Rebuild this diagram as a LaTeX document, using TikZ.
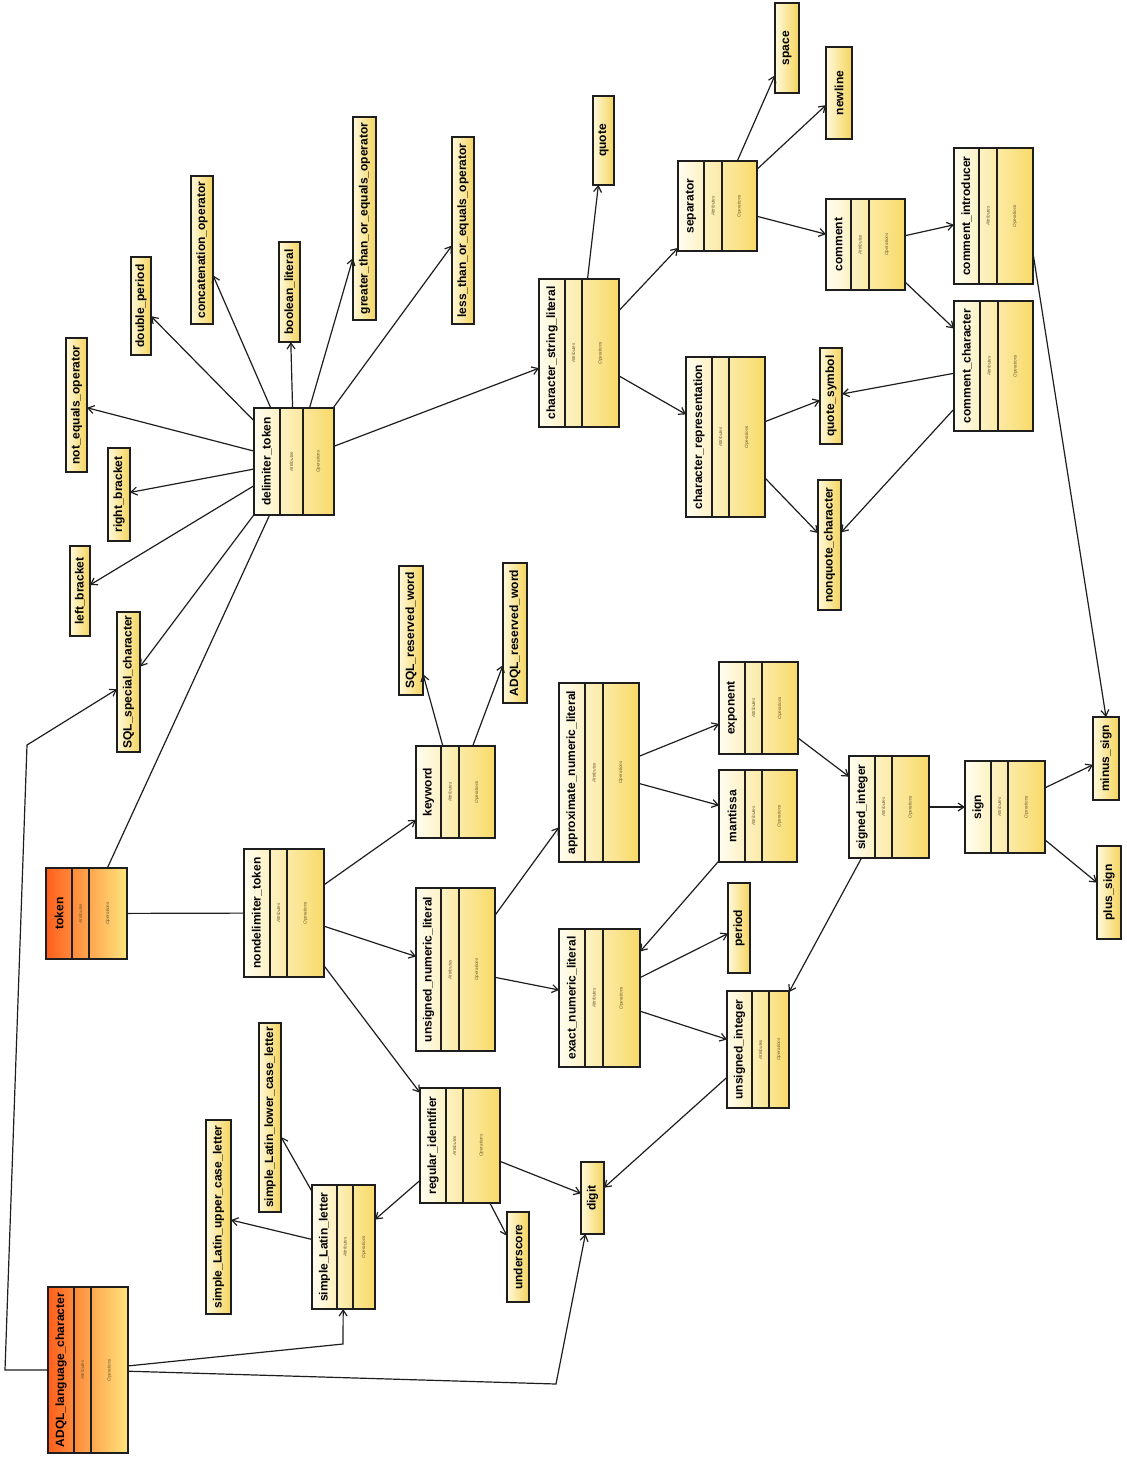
\documentclass[tikz,border=0pt]{standalone}
\usepackage{fontspec}
\setmainfont{Liberation Sans}
\usetikzlibrary{calc,arrows.meta}

\definecolor{clsL}{HTML}{FFFDF0}
\definecolor{clsR}{HTML}{F8DA68}
\definecolor{orgL}{HTML}{FF5F1C}
\definecolor{orgR}{HTML}{FFE47C}
\definecolor{litL}{HTML}{FFF9DC}
\definecolor{litR}{HTML}{F4D45C}
\definecolor{inkline}{HTML}{1E1E1E}
\definecolor{compText}{HTML}{6A5A2E}

\tikzset{
  classbox/.style={draw=inkline, line width=1.1pt, left color=clsL, right color=clsR, inner sep=0pt, outer sep=0pt},
  rootbox/.style={classbox, left color=orgL, right color=orgR},
  literal/.style={classbox, left color=litL, right color=litR},
  divider/.style={draw=inkline, line width=1.1pt},
  namelbl/.style={rotate=90, font=\bfseries\fontsize{12}{12}\selectfont, inner sep=0pt, text=black},
  complbl/.style={rotate=90, font=\itshape\fontsize{4.6}{4.6}\selectfont, inner sep=0pt, text=compText},
  conn/.style={draw=inkline, line width=1.2pt},
  assoc/.style={conn, -{Straight Barb[length=6pt,width=8pt]}},
}

% UML class with name, attribute and operation compartments (laid out sideways)
% #1 node name, #2 left, #3 top, #4 width, #5 height, #6/#7 divider offsets, #8 style, #9 title
\newcommand{\umlclass}[9]{%
  \node[#8, anchor=north west, minimum width=#4pt, minimum height=#5pt] (#1) at (#2,#3) {};
  \draw[divider] ([xshift=#6pt]#1.north west) -- ([xshift=#6pt]#1.south west);
  \draw[divider] ([xshift=#7pt]#1.north west) -- ([xshift=#7pt]#1.south west);
  \node[namelbl] at ([xshift=#6pt/2]#1.west) {#9};
  \node[complbl] at ([xshift=(#6pt+#7pt)/2]#1.west) {Attributes};
  \node[complbl] at ([xshift=(#7pt+#4pt)/2]#1.west) {Operations};
}

% single-compartment literal box
% #1 node name, #2 left, #3 top, #4 width, #5 height, #6 title
\newcommand{\literalbox}[6]{%
  \node[literal, anchor=north west, minimum width=#4pt, minimum height=#5pt] (#1) at (#2,#3) {};
  \node[namelbl] at (#1.center) {#6};
}

\begin{document}
\begin{tikzpicture}[x=1pt, y=-1pt]
\fill[white] (0,0) rectangle (1127,1468);
\useasboundingbox (0,0) rectangle (1127,1468);

% ---- classes ----
\umlclass{delim}{254}{408}{80}{107}{26}{49}{classbox}{delimiter\_token}
\umlclass{token}{46}{868}{81}{91}{26}{43}{rootbox}{token}
\umlclass{adqlchar}{48}{1287}{80}{166}{26}{43}{rootbox}{ADQL\_language\_character}
\umlclass{csl}{539}{279}{80}{148}{26}{43}{classbox}{character\_string\_literal}
\umlclass{separator}{678}{161}{79}{90}{26}{44}{classbox}{separator}
\umlclass{comment}{826}{199}{79}{91}{25}{43}{classbox}{comment}
\umlclass{cintro}{954}{148}{79}{136}{25}{43}{classbox}{comment\_introducer}
\umlclass{cchar}{954}{301}{79}{130}{26}{44}{classbox}{comment\_character}
\umlclass{crep}{686}{357}{79}{160}{26}{43}{classbox}{character\_representation}
\umlclass{nondelim}{244}{849}{80}{128}{26}{43}{classbox}{nondelimiter\_token}
\umlclass{keyword}{416}{746}{79}{92}{25}{43}{classbox}{keyword}
\umlclass{unl}{416}{888}{79}{163}{25}{43}{classbox}{unsigned\_numeric\_literal}
\umlclass{anl}{559}{683}{80}{179}{26}{44}{classbox}{approximate\_numeric\_literal}
\umlclass{exponent}{719}{662}{79}{92}{26}{43}{classbox}{exponent}
\umlclass{mantissa}{719}{770}{78}{92}{26}{43}{classbox}{mantissa}
\umlclass{enl}{559}{929}{81}{138}{26}{44}{classbox}{exact\_numeric\_literal}
\umlclass{sint}{849}{756}{80}{102}{26}{43}{classbox}{signed\_integer}
\umlclass{sign}{965}{761}{80}{92}{26}{43}{classbox}{sign}
\umlclass{uint}{727}{991}{62}{117}{25}{42}{classbox}{unsigned\_integer}
\umlclass{regid}{420}{1088}{80}{115}{26}{43}{classbox}{regular\_identifier}
\umlclass{sll}{312}{1185}{63}{124}{25}{41}{classbox}{simple\_Latin\_letter}

% ---- literal boxes ----
\literalbox{space}{775}{3}{24}{90}{space}
\literalbox{newline}{826}{47}{26}{92}{newline}
\literalbox{quote}{593}{96}{21}{89}{quote}
\literalbox{qsym}{820}{348}{22}{96}{quote\_symbol}
\literalbox{nonquote}{818}{480}{23}{130}{nonquote\_character}
\literalbox{minus}{1093}{717}{26}{83}{minus\_sign}
\literalbox{plus}{1097}{846}{24}{93}{plus\_sign}
\literalbox{dperiod}{131}{257}{20}{98}{double\_period}
\literalbox{concat}{191}{176}{22}{148}{concatenation\_operator}
\literalbox{boolean}{279}{242}{21}{100}{boolean\_literal}
\literalbox{gteq}{353}{117}{23}{203}{greater\_than\_or\_equals\_operator}
\literalbox{lteq}{452}{137}{22}{187}{less\_than\_or\_equals\_operator}
\literalbox{neq}{66}{338}{21}{134}{not\_equals\_operator}
\literalbox{rbracket}{108}{448}{22}{93}{right\_bracket}
\literalbox{lbracket}{70}{546}{20}{90}{left\_bracket}
\literalbox{sqlspecial}{117}{612}{23}{140}{SQL\_special\_character}
\literalbox{sqlrw}{399}{566}{24}{129}{SQL\_reserved\_word}
\literalbox{adqlrw}{503}{563}{24}{140}{ADQL\_reserved\_word}
\literalbox{period}{728}{883}{22}{90}{period}
\literalbox{digit}{581}{1162}{23}{72}{digit}
\literalbox{underscore}{507}{1212}{22}{90}{underscore}
\literalbox{upper}{206}{1120}{25}{194}{simple\_Latin\_upper\_case\_letter}
\literalbox{lower}{259}{1023}{22}{189}{simple\_Latin\_lower\_case\_letter}

% ---- bend points of routed connectors ----
\coordinate (bendA) at (343,1344);
\coordinate (bendB) at (556,1384);
\coordinate (bendC) at (5,1370);
\coordinate (bendD) at (27,745);

% ---- connectors ----
\draw[conn] (token) -- (delim);
\draw[conn] (token) -- (nondelim);

\foreach \t in {neq,rbracket,lbracket,sqlspecial,dperiod,concat,boolean,gteq,lteq,csl}
  \draw[assoc] (delim) -- (\t);

\draw[assoc] (nondelim) -- (keyword);
\draw[assoc] (nondelim) -- (unl);
\draw[assoc] (nondelim) -- (regid);
\draw[assoc] (keyword) -- (sqlrw);
\draw[assoc] (keyword) -- (adqlrw);
\draw[assoc] (unl) -- (anl);
\draw[assoc] (unl) -- (enl);
\draw[assoc] (anl) -- (exponent);
\draw[assoc] (anl) -- (mantissa);
\draw[assoc] (mantissa) -- (enl);
\draw[assoc] (enl) -- (period);
\draw[assoc] (enl) -- (uint);
\draw[assoc] (exponent) -- (sint);
\draw[assoc] (sint) -- (sign);
\draw[assoc] (sint) -- (uint);
\draw[assoc] (sign) -- (minus);
\draw[assoc] (sign) -- (plus);
\draw[assoc] (uint) -- (digit);
\draw[assoc] (regid) -- (digit);
\draw[assoc] (regid) -- (underscore);
\draw[assoc] (regid) -- (sll);
\draw[assoc] (sll) -- (upper);
\draw[assoc] (sll) -- (lower);

\draw[assoc] (adqlchar) -- (bendA) -- (sll);
\draw[assoc] (adqlchar) -- (bendB) -- (digit);
\draw[assoc] (adqlchar.west) -- (bendC) -- (bendD) -- (sqlspecial);

\draw[assoc] (csl) -- (quote);
\draw[assoc] (csl) -- (separator);
\draw[assoc] (csl) -- (crep);
\draw[assoc] (separator) -- (space);
\draw[assoc] (separator) -- (newline);
\draw[assoc] (separator) -- (comment);
\draw[assoc] (comment) -- (cintro);
\draw[assoc] (comment) -- (cchar);
\draw[assoc] (cchar) -- (qsym);
\draw[assoc] (cchar) -- (nonquote);
\draw[assoc] (crep) -- (qsym);
\draw[assoc] (crep) -- (nonquote);
\draw[assoc] ([yshift=-37pt]cintro.east) -- (minus.north);
\end{tikzpicture}
\end{document}
